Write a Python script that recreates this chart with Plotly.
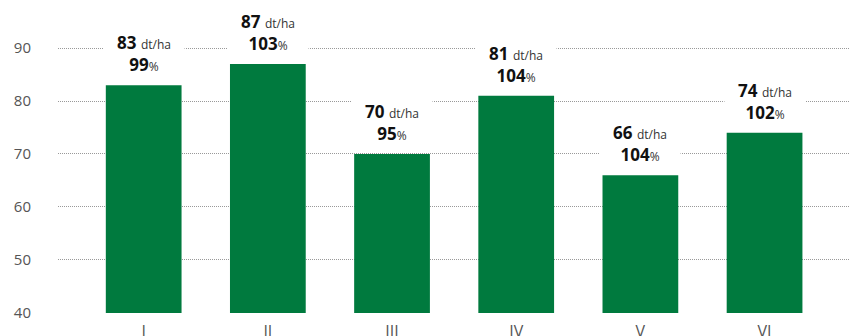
import plotly.graph_objects as go

categories = ["I", "II", "III", "IV", "V", "VI"]
yields = [83, 87, 70, 81, 66, 74]
percents = [99, 103, 95, 104, 104, 102]
y_ticks = [40, 50, 60, 70, 80, 90]

GREEN = "#007a3e"

fig = go.Figure()
fig.add_trace(go.Bar(
    x=list(range(len(categories))), y=yields, base=0,
    marker=dict(color=GREEN, line=dict(width=0)),
    width=0.61, hoverinfo="skip",
))

for i, (v, p) in enumerate(zip(yields, percents)):
    fig.add_annotation(
        x=i, y=v, xref="x", yref="y",
        yanchor="bottom", xanchor="center", yshift=6,
        text=(f"<b>{v}</b> <span style='font-size:12px;color:#333'>dt/ha</span><br>"
              f"<b>{p}</b><span style='font-size:12px;color:#333'>%</span>"),
        showarrow=False, bgcolor="white", width=76, borderpad=2,
        font=dict(family="Open Sans", size=17, color="#111"),
        align="center",
    )

fig.update_layout(
    width=849, height=336,
    margin=dict(l=58, r=0, t=10, b=23),
    plot_bgcolor="white", paper_bgcolor="white",
    showlegend=False,
    font=dict(family="Open Sans", color="#555"),
)
fig.update_xaxes(
    range=[-0.69, 5.68], tickmode="array",
    tickvals=list(range(len(categories))), ticktext=categories,
    showgrid=False, zeroline=False, showline=False, ticks="",
    ticklabelstandoff=7, automargin=False,
    tickfont=dict(family="Open Sans", size=16, color="#555"),
)
fig.update_yaxes(
    range=[39.95, 97.2], tickmode="array", tickvals=y_ticks,
    showgrid=True, gridcolor="#999", griddash="1px,1px", gridwidth=1,
    zeroline=False, showline=False, ticks="",
    ticklabelstandoff=26, automargin=False,
    tickfont=dict(family="Open Sans", size=15, color="#555"),
)

fig.write_html("out.html")
